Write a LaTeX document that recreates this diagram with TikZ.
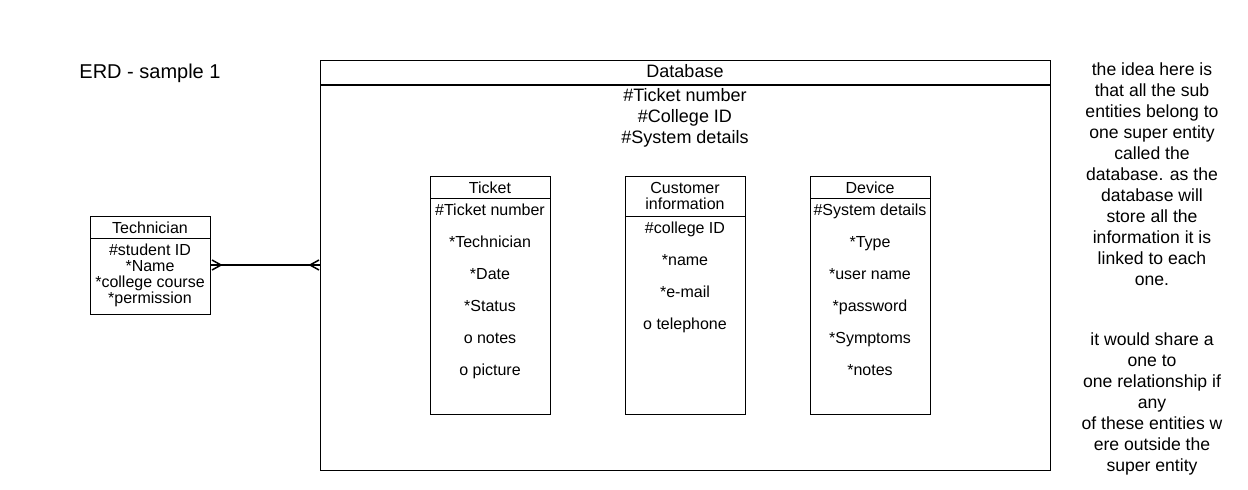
\documentclass[tikz,border=0pt]{standalone}
\usepackage{fontspec}
\setmainfont{Liberation Sans}
\begin{document}
\begin{tikzpicture}[x=1pt,y=-1pt,
  box/.style={draw=black,line width=1pt},
  txt/.style={inner sep=0pt,anchor=center,text height=14.8pt,text depth=3.4pt,font=\fontsize{16}{18}\selectfont},
  dbtxt/.style={inner sep=0pt,anchor=center,text height=16.7pt,text depth=3.8pt,font=\fontsize{18}{20}\selectfont},
  note/.style={inner sep=0pt,anchor=center,align=center,font=\fontsize{17.6}{21}\selectfont},
  link/.style={line width=2pt},
  foot/.style={line width=1.5pt}]
\useasboundingbox (0,0) rectangle (1248,490);
% Database super entity
\node[box,minimum width=730,minimum height=410,inner sep=0pt,anchor=north west] (db) at (320,60) {};
\draw[line width=1.4pt] (320,85) -- (1050,85);
\node[dbtxt] (dbt) at (685,71) {Database};
\node[dbtxt] (db1) at (685,95) {\#Ticket number};
\node[dbtxt] (db2) at (685,116) {\#College ID};
\node[dbtxt] (db3) at (685,137) {\#System details};
% Ticket
\node[box,minimum width=120,minimum height=238,inner sep=0pt,anchor=north west] (tk) at (430,176) {};
\draw[line width=1pt] (430,198) -- (550,198);
\node[txt] (tkt) at (490,188) {Ticket};
\node[txt] (tk1) at (490,210) {\#Ticket number};
\node[txt] (tk2) at (490,242) {*Technician};
\node[txt] (tk3) at (490,274) {*Date};
\node[txt] (tk4) at (490,306) {*Status};
\node[txt] (tk5) at (490,338) {o notes};
\node[txt] (tk6) at (490,370) {o picture};
% Customer information
\node[box,minimum width=120,minimum height=238,inner sep=0pt,anchor=north west] (ci) at (625,176) {};
\draw[line width=1pt] (625,216) -- (745,216);
\node[txt] (cit1) at (685,188) {Customer};
\node[txt] (cit2) at (685,204) {information};
\node[txt] (ci1) at (685,228) {\#college ID};
\node[txt] (ci2) at (685,260) {*name};
\node[txt] (ci3) at (685,292) {*e-mail};
\node[txt] (ci4) at (685,324) {o telephone};
% Device
\node[box,minimum width=120,minimum height=238,inner sep=0pt,anchor=north west] (dv) at (810,176) {};
\draw[line width=1pt] (810,198) -- (930,198);
\node[txt] (dvt) at (870,188) {Device};
\node[txt] (dv1) at (870,210) {\#System details};
\node[txt] (dv2) at (870,242) {*Type};
\node[txt] (dv3) at (870,274) {*user name};
\node[txt] (dv4) at (870,306) {*password};
\node[txt] (dv5) at (870,338) {*Symptoms};
\node[txt] (dv6) at (870,370) {*notes};
% Technician
\node[box,minimum width=120,minimum height=98,inner sep=0pt,anchor=north west] (te) at (90,216) {};
\draw[line width=1pt] (90,238) -- (210,238);
\node[txt] (tet) at (150,228) {Technician};
\node[txt] (te1) at (150,250) {\#student ID};
\node[txt] (te2) at (150,266) {*Name};
\node[txt] (te3) at (150,282) {*college course};
\node[txt] (te4) at (150,298) {*permission};
% Relationship
\coordinate (a) at (te.east |- 0,265);
\coordinate (b) at (db.west |- 0,265);
\draw[link] (a) -- (b);
\draw[foot] ([xshift=1pt,yshift=-5pt]a) -- ([xshift=10pt]a) -- ([xshift=1pt,yshift=5pt]a);
\draw[foot] ([xshift=-1pt,yshift=-5pt]b) -- ([xshift=-10pt]b) -- ([xshift=-1pt,yshift=5pt]b);
% Labels
\node[inner sep=0pt,anchor=center,font=\fontsize{20}{22}\selectfont] (title) at (150,73) {ERD - sample 1};
\node[note] (n1) at (1152,174) {the idea here is\\that all the sub\\entities belong to\\one super entity\\called the\\database. as the\\database will\\store all the\\information it is\\linked to each\\one.};
\node[note] (n2) at (1152,404) {it would share a\\one to\\one relationship if\\any\\of these entities w\\ere outside the\\super entity};
\end{tikzpicture}
\end{document}
